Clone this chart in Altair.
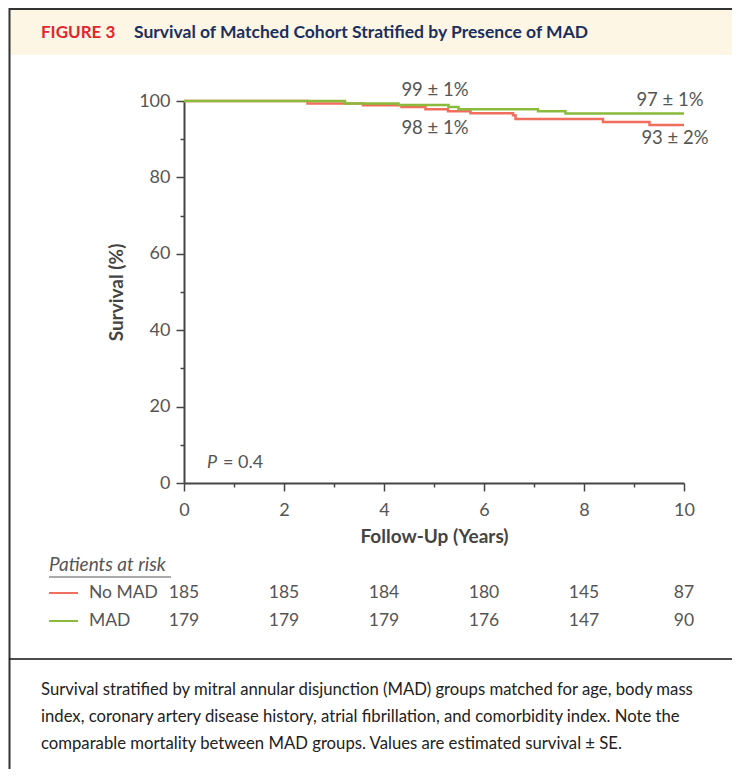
import altair as alt
import pandas as pd

# ---------------- data ----------------
no_mad_years = [0, 2.47, 3.58, 4.35, 4.83, 5.28, 5.73, 6.58, 6.63, 8.38, 9.31, 10]
no_mad_surv = [100, 99.35, 98.9, 98.4, 97.85, 97.3, 96.8, 96.3, 95.3, 94.5, 93.7, 93.7]
mad_years = [0, 3.22, 4.29, 5.29, 5.49, 7.08, 7.63, 10]
mad_surv = [100, 99.35, 98.97, 98.4, 97.85, 97.3, 96.7, 96.7]

risk_years = [0, 2, 4, 6, 8, 10]
risk_no_mad = [185, 185, 184, 180, 145, 87]
risk_mad = [179, 179, 179, 176, 147, 90]

annot_text = ["99 ± 1%", "98 ± 1%", "97 ± 1%", "93 ± 2%"]
annot_year = [5.02, 5.02, 9.72, 9.82]
annot_surv = [102.9, 92.9, 100.3, 90.3]

x_major = [0, 2, 4, 6, 8, 10]
x_minor = [1, 3, 5, 7, 9]
y_major = [0, 20, 40, 60, 80, 100]
y_minor = [10, 30, 50, 70, 90]

caption_lines = [
    "Survival stratified by mitral annular disjunction (MAD) groups matched for age, body mass",
    "index, coronary artery disease history, atrial fibrillation, and comorbidity index. Note the",
    "comparable mortality between MAD groups. Values are estimated survival \u00b1 SE.",
]

RED = "#F06E5C"
GREEN = "#8BBB3C"
AX = "#454545"
LBL = "#555555"
FONT = "Lato"

red_df = pd.DataFrame({"year": no_mad_years, "surv": no_mad_surv})
green_df = pd.DataFrame({"year": mad_years, "surv": mad_surv})
annot_df = pd.DataFrame({"year": annot_year, "surv": annot_surv, "t": annot_text})
risk_red_df = pd.DataFrame({"year": risk_years, "n": risk_no_mad})
risk_green_df = pd.DataFrame({"year": risk_years, "n": risk_mad})
one = pd.DataFrame({"k": [0]})

xs = alt.Scale(domain=[0, 10], nice=False, zero=False)
ys = alt.Scale(domain=[0, 100], nice=False, zero=False)

main_x_axis = alt.Axis(
    orient="bottom", values=x_major, tickSize=8, tickWidth=1.5, tickColor=AX,
    domainColor=AX, domainWidth=2, labelFont=FONT, labelFontSize=18, labelColor=LBL,
    labelPadding=10, labelFlush=False, title="Follow-Up (Years)", titleFont=FONT,
    titleFontSize=19, titleFontWeight="bold", titleColor="#444444", titlePadding=8, grid=False,
)
main_y_axis = alt.Axis(
    orient="left", values=y_major, tickSize=8, tickWidth=1.5, tickColor=AX,
    domainColor=AX, domainWidth=2, labelFont=FONT, labelFontSize=18, labelColor=LBL,
    labelPadding=6, labelFlush=False, title="Survival (%)", titleFont=FONT, titleFontSize=19,
    titleFontWeight="bold", titleColor="#444444", titlePadding=12, grid=False,
)
minor_x_axis = alt.Axis(orient="bottom", values=x_minor, tickSize=4, tickWidth=1.5,
                        tickColor=AX, domain=False, labels=False, title="", grid=False)
minor_y_axis = alt.Axis(orient="left", values=y_minor, tickSize=4, tickWidth=1.5,
                        tickColor=AX, domain=False, labels=False, title="", grid=False)

red_line = alt.Chart(red_df).mark_line(interpolate="step-after", color=RED, strokeWidth=2.5).encode(
    x=alt.X("year:Q", scale=xs, axis=main_x_axis),
    y=alt.Y("surv:Q", scale=ys, axis=main_y_axis),
)
green_line = alt.Chart(green_df).mark_line(interpolate="step-after", color=GREEN, strokeWidth=2.5).encode(
    x=alt.X("year:Q", scale=xs, axis=minor_x_axis),
    y=alt.Y("surv:Q", scale=ys, axis=minor_y_axis),
)

annots = alt.Chart(annot_df).mark_text(font=FONT, fontSize=18.5, color=LBL, baseline="middle").encode(
    x=alt.X("year:Q", scale=xs, axis=None),
    y=alt.Y("surv:Q", scale=ys, axis=None),
    text="t:N",
)


def txt(s, x, y, **kw):
    params = dict(font=FONT, fontSize=17, color=LBL, align="left", baseline="middle")
    params.update(kw)
    return alt.Chart(one).mark_text(text=s, **params).encode(x=alt.value(x), y=alt.value(y))


def rule(x, x2, y, y2, color, width):
    return alt.Chart(one).mark_rule(color=color, strokeWidth=width).encode(
        x=alt.value(x), x2=alt.value(x2), y=alt.value(y), y2=alt.value(y2))


# P value
p_italic = txt("P", 23, 362, fontStyle="italic", fontSize=18)
p_rest = txt("= 0.4", 39, 362, fontSize=18)

# risk table
risk_title = txt("Patients at risk", -135, 464, fontStyle="italic", fontSize=19)
risk_ul = rule(-135, -13, 476, 476, LBL, 1)
leg_red = rule(-135, -106, 492, 492, RED, 2)
leg_green = rule(-135, -106, 520, 520, GREEN, 2)
lab_red = txt("No MAD", -95, 492, fontSize=17.5)
lab_green = txt("MAD", -95, 520, fontSize=17.5)
nums_red = alt.Chart(risk_red_df).mark_text(font=FONT, fontSize=17.5, color=LBL, baseline="middle").encode(
    x=alt.X("year:Q", scale=xs, axis=None), y=alt.value(492), text="n:Q")
nums_green = alt.Chart(risk_green_df).mark_text(font=FONT, fontSize=17.5, color=LBL, baseline="middle").encode(
    x=alt.X("year:Q", scale=xs, axis=None), y=alt.value(520), text="n:Q")

# frame + header
header_bg = alt.Chart(one).mark_rect(color="#FDF6E4").encode(
    x=alt.value(-174), x2=alt.value(548), y=alt.value(-91), y2=alt.value(-46))
top_border = rule(-175, 548, -92, -92, "#333333", 2)
left_border = rule(-174.5, -174.5, -93, 668, "#333333", 2)
sep_line = rule(-175, 548, 558, 558, "#111111", 1.5)
fig_lab = txt("FIGURE 3", -143, -68, fontSize=17, fontWeight="bold", color="#E2262E")
fig_title = txt("Survival of Matched Cohort Stratified by Presence of MAD", -50, -68,
                fontSize=17.5, fontWeight="bold", color="#1B2F5E")

caps = [txt(line, -143, 589 + 27 * i, fontSize=16.7, color="#222222") for i, line in enumerate(caption_lines)]

chart = alt.layer(
    header_bg, top_border, left_border, sep_line, fig_lab, fig_title,
    red_line, green_line, annots, p_italic, p_rest,
    risk_title, risk_ul, leg_red, leg_green, lab_red, lab_green, nums_red, nums_green,
    *caps,
).resolve_axis(x="independent", y="independent").properties(
    width=500, height=382,
    autosize=alt.AutoSizeParams(type="none"),
    padding={"left": 176, "top": 93, "right": 48, "bottom": 286},
    background="white",
).configure_view(strokeWidth=0)

chart.save("out.html", embed_options={"renderer": "svg", "actions": False})
